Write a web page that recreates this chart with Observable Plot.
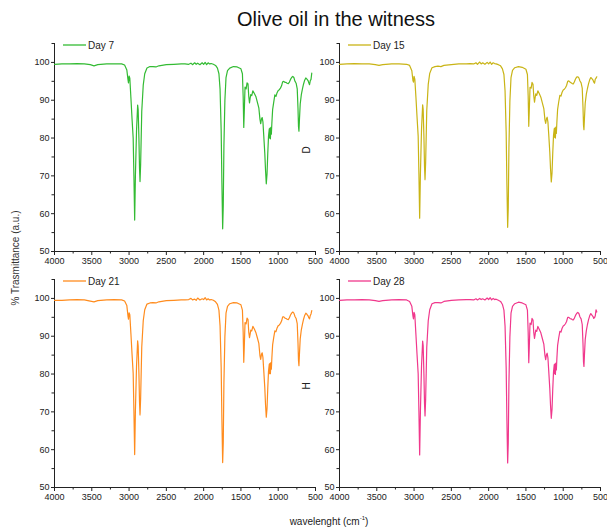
<!DOCTYPE html>
<html>
<head>
<meta charset="utf-8">
<script src="https://cdn.jsdelivr.net/npm/d3@7"></script>
<script src="https://cdn.jsdelivr.net/npm/@observablehq/plot@0.6"></script>
<style>
  html, body { margin: 0; padding: 0; background: #fff; overflow: hidden; }
  #root { position: relative; width: 607px; height: 527px; font-family: "Liberation Sans", Arial, sans-serif; color: #222; }
  .abs { position: absolute; }
  #title { left: 136px; width: 400px; top: 8px; text-align: center; font-size: 20px; color: #111; }
  #ylab { left: 15px; top: 258px; transform: translate(-50%, -50%) rotate(-90deg); font-size: 10px; white-space: nowrap; color: #333; }
  #xlab { left: 329px; top: 521px; transform: translate(-50%, -50%); font-size: 10px; white-space: nowrap; color: #222; }
  #xlab sup { font-size: 6px; }
</style>
</head>
<body>
<div id="root">
  <div id="title" class="abs">Olive oil in the witness</div>
  <div id="ylab" class="abs">% Trasmittance (a.u.)</div>
  <div id="xlab" class="abs">wavelenght (cm<sup>-1</sup>)</div>
</div>
<script>
const xTicks = [4000, 3500, 3000, 2500, 2000, 1500, 1000, 500];
const xMinor = [3750, 3250, 2750, 2250, 1750, 1250, 750];
const yTicks = [50, 60, 70, 80, 90, 100];
const yMinor = [55, 65, 75, 85, 95, 105];

const days = ["Day 7", "Day 15", "Day 21", "Day 28"];
const sideLabels = ["", "D", "", "H"];
const colors = ["#33bb33", "#c9b416", "#ff8c1e", "#f0388c"];

const wn = [
  4000, 3900, 3800, 3700, 3600, 3520, 3470, 3420, 3300, 3200,
  3100, 3060, 3030, 3015, 3008, 3000, 2990, 2975, 2960, 2945,
  2935, 2925, 2915, 2900, 2885, 2878, 2868, 2860, 2853, 2845,
  2830, 2810, 2790, 2760, 2720, 2680, 2640, 2600, 2500, 2400,
  2300, 2250, 2200, 2170, 2150, 2120, 2100, 2080, 2050, 2020,
  2000, 1980, 1960, 1940, 1920, 1900, 1870, 1840, 1815, 1795,
  1780, 1765, 1755, 1745, 1737, 1728, 1715, 1700, 1680, 1650,
  1600, 1550, 1500, 1480, 1470, 1462, 1455, 1445, 1430, 1418,
  1405, 1395, 1385, 1377, 1368, 1355, 1340, 1320, 1300, 1280,
  1260, 1245, 1235, 1225, 1215, 1205, 1195, 1180, 1170, 1160,
  1150, 1140, 1130, 1120, 1115, 1110, 1105, 1098, 1092, 1085,
  1075, 1060, 1045, 1030, 1015, 1000, 985, 970, 955, 940,
  925, 910, 895, 880, 865, 850, 835, 820, 805, 790,
  775, 760, 745, 735, 728, 722, 715, 705, 690, 675,
  660, 645, 630, 615, 600, 590, 580, 570, 560, 550
];

const day7 = [
  99.5, 99.6, 99.6, 99.7, 99.6, 99.4, 99.1, 99.4, 99.6, 99.6,
  99.6, 99.3, 98.0, 95.5, 94.6, 96.4, 95.8, 90.5, 85.0, 80.0,
  70.0, 58.3, 70.0, 82.0, 88.7, 87.5, 80.0, 72.0, 68.5, 73.0,
  87.0, 94.0, 97.0, 98.5, 98.9, 98.9, 98.8, 99.1, 99.4, 99.5,
  99.6, 99.6, 99.5, 99.8, 99.4, 99.9, 99.5, 99.8, 99.4, 99.9,
  99.5, 100.0, 99.4, 99.9, 99.6, 99.7, 99.5, 99.2, 98.5, 97.0,
  93.0, 82.0, 68.0, 56.0, 62.0, 78.0, 90.0, 96.0, 97.8, 98.5,
  98.9, 98.8, 98.3, 97.0, 91.0, 82.8, 87.0, 93.5, 93.0, 94.6,
  94.3, 91.0, 89.3, 90.5, 91.5, 91.2, 92.5, 91.8, 91.0, 89.5,
  88.0, 85.0, 83.8, 85.0, 85.4, 84.3, 81.0, 76.0, 71.5, 67.9,
  70.5, 76.0, 80.5, 82.4, 80.0, 82.6, 79.8, 82.8, 81.0, 84.0,
  87.5, 89.5, 91.4, 91.0, 92.0, 92.6, 92.8, 93.2, 93.8, 94.9,
  95.0, 94.7, 94.7, 94.5, 94.4, 94.8, 95.5, 96.0, 96.3, 96.0,
  95.0, 94.5, 93.0, 88.0, 83.0, 81.8, 85.0, 89.0, 91.5, 93.0,
  94.3, 95.3, 95.9, 95.6, 95.2, 94.6, 94.1, 95.2, 95.5, 97.2
];

const day15 = [
  99.5, 99.6, 99.7, 99.6, 99.6, 99.4, 99.2, 99.4, 99.6, 99.6,
  99.5, 99.2, 97.8, 95.2, 94.8, 96.3, 95.6, 90.8, 85.5, 80.5,
  70.5, 58.8, 70.5, 82.3, 88.8, 87.6, 80.5, 72.5, 69.0, 73.5,
  87.2, 94.2, 97.1, 98.6, 98.9, 99.0, 98.9, 99.2, 99.4, 99.6,
  99.6, 99.7, 99.6, 99.9, 99.5, 100.1, 99.6, 99.9, 99.5, 100.0,
  99.6, 100.1, 99.5, 99.9, 99.7, 99.6, 99.4, 99.1, 98.3, 96.8,
  92.5, 81.5, 67.5, 56.4, 61.5, 77.5, 89.8, 96.0, 97.9, 98.6,
  98.9, 98.7, 98.2, 96.8, 91.2, 83.1, 87.3, 93.4, 93.2, 94.7,
  94.2, 91.2, 89.5, 90.6, 91.7, 91.3, 92.5, 91.7, 90.8, 89.3,
  87.8, 84.8, 83.9, 85.1, 85.5, 84.2, 81.2, 76.3, 71.8, 68.4,
  70.8, 76.2, 80.7, 82.5, 80.2, 82.7, 80.0, 82.9, 81.2, 84.2,
  87.6, 89.6, 91.3, 91.1, 92.1, 92.7, 92.9, 93.3, 93.9, 95.0,
  95.1, 94.8, 94.6, 94.4, 94.3, 94.9, 95.6, 96.1, 96.2, 95.9,
  95.1, 94.6, 93.2, 88.3, 83.4, 82.2, 85.3, 89.2, 91.6, 93.1,
  94.4, 95.4, 96.0, 95.7, 95.3, 94.8, 94.5, 95.6, 95.8, 96.2
];

const day21 = [
  99.5, 99.5, 99.6, 99.7, 99.6, 99.3, 99.1, 99.4, 99.6, 99.7,
  99.6, 99.3, 98.1, 95.4, 94.5, 96.2, 95.7, 90.6, 85.2, 80.2,
  70.2, 58.7, 70.3, 82.1, 88.8, 87.4, 80.3, 72.6, 69.2, 73.6,
  87.1, 94.1, 97.0, 98.5, 98.8, 98.9, 98.8, 99.1, 99.4, 99.5,
  99.6, 99.6, 99.7, 100.0, 99.6, 99.8, 99.5, 100.1, 99.6, 99.9,
  99.7, 100.2, 99.6, 99.9, 99.6, 99.7, 99.5, 99.1, 98.4, 96.9,
  92.8, 81.8, 67.8, 56.6, 61.8, 77.8, 89.9, 96.1, 97.9, 98.6,
  98.9, 98.8, 98.3, 96.9, 91.1, 83.1, 87.2, 93.6, 93.3, 94.8,
  94.4, 91.1, 89.6, 90.5, 91.6, 91.4, 92.6, 91.9, 91.0, 89.6,
  88.1, 84.9, 83.9, 85.2, 85.6, 84.4, 81.3, 76.4, 71.9, 68.6,
  70.9, 76.3, 80.8, 82.6, 80.1, 82.8, 80.1, 83.0, 81.3, 84.3,
  87.7, 89.7, 91.4, 91.2, 92.2, 92.8, 93.0, 93.4, 94.0, 95.1,
  95.1, 94.8, 94.7, 94.5, 94.4, 94.9, 95.6, 96.1, 96.4, 96.1,
  95.2, 94.7, 93.3, 88.4, 83.5, 82.2, 85.4, 89.3, 91.7, 93.2,
  94.5, 95.5, 96.1, 95.8, 95.4, 94.9, 94.6, 95.5, 95.9, 96.8
];

const day28 = [
  99.5, 99.6, 99.6, 99.7, 99.6, 99.4, 99.2, 99.4, 99.6, 99.7,
  99.6, 99.2, 97.9, 95.3, 94.6, 96.3, 95.7, 90.4, 85.1, 80.1,
  70.1, 58.6, 70.1, 82.2, 88.7, 87.5, 80.1, 72.2, 68.9, 73.2,
  87.0, 94.1, 97.0, 98.6, 98.9, 98.9, 98.8, 99.2, 99.5, 99.6,
  99.7, 99.7, 99.6, 99.9, 99.6, 100.0, 99.7, 99.9, 99.6, 100.1,
  99.7, 100.2, 99.6, 100.0, 99.7, 99.8, 99.5, 99.2, 98.4, 96.9,
  92.7, 81.7, 67.7, 56.5, 61.7, 77.7, 89.9, 96.1, 97.9, 98.6,
  99.0, 98.8, 98.3, 96.9, 91.1, 83.0, 87.1, 93.5, 93.1, 94.7,
  94.3, 91.0, 89.4, 90.4, 91.6, 91.3, 92.6, 91.8, 90.9, 89.4,
  87.9, 84.9, 83.8, 85.1, 85.5, 84.3, 81.1, 76.2, 71.7, 68.3,
  70.7, 76.1, 80.6, 82.5, 80.1, 82.7, 79.9, 82.9, 81.1, 84.1,
  87.6, 89.6, 91.3, 91.1, 92.1, 92.7, 92.9, 93.3, 93.9, 95.0,
  95.0, 94.7, 94.6, 94.4, 94.3, 94.8, 95.5, 96.0, 96.3, 96.0,
  95.1, 94.6, 93.1, 88.2, 83.2, 82.0, 85.2, 89.1, 91.5, 93.1,
  94.4, 95.4, 96.0, 95.6, 95.2, 94.7, 94.9, 95.4, 97.0, 96.4
];

const series = [day7, day15, day21, day28];

function legendMark(color, label) {
  return (index, scales, values, dims) => {
    const g = d3.create("svg:g");
    const x0 = dims.marginLeft + 9, y0 = dims.marginTop + 2;
    g.append("line").attr("x1", x0).attr("x2", x0 + 23).attr("y1", y0).attr("y2", y0)
      .attr("stroke", color).attr("stroke-width", 1.3);
    g.append("text").attr("x", x0 + 25).attr("y", y0).attr("dy", "0.35em")
      .attr("font-size", 10).attr("fill", "#222").attr("text-anchor", "start").text(label);
    return g.node();
  };
}

const root = document.getElementById("root");
const positions = [[0, 30], [285, 30], [0, 266], [285, 266]];

series.forEach((vals, i) => {
  const data = wn.map((w, j) => ({wn: w, t: vals[j]}));
  const marks = [
    Plot.axisX({ticks: xTicks, tickFormat: d => String(d), tickSize: 4, tickPadding: 2, fontSize: 9, color: "#222", label: null}),
    Plot.axisX({ticks: xMinor, tickFormat: () => "", tickSize: 2.5, color: "#222", label: null}),
    Plot.axisY({ticks: yTicks, tickFormat: d => String(d), tickSize: 3, tickPadding: 2, fontSize: 9, color: "#222", label: null}),
    Plot.axisY({ticks: yMinor, tickFormat: () => "", tickSize: 2.5, color: "#222", label: null}),
    Plot.ruleY([50], {stroke: "#222", strokeWidth: 1}),
    Plot.ruleX([4000], {stroke: "#222", strokeWidth: 1}),
    Plot.line(data, {x: "wn", y: "t", stroke: colors[i], strokeWidth: 1.2}),
    legendMark(colors[i], days[i])
  ];
  if (sideLabels[i]) {
    marks.push(Plot.text([sideLabels[i]], {frameAnchor: "left", dx: -33, dy: 6, rotate: -90, fontSize: 10, fill: "#222"}));
  }
  const chart = Plot.plot({
    width: 320,
    height: 241,
    marginLeft: 54,
    marginRight: 5,
    marginTop: 13,
    marginBottom: 20,
    x: {domain: [4000, 500]},
    y: {domain: [50, 105]},
    style: {background: "transparent", overflow: "visible", fontFamily: "'Liberation Sans', Arial, sans-serif"},
    marks
  });
  const wrap = document.createElement("div");
  wrap.className = "abs";
  wrap.style.left = positions[i][0] + "px";
  wrap.style.top = positions[i][1] + "px";
  wrap.appendChild(chart);
  root.appendChild(wrap);
});
</script>
</body>
</html>
